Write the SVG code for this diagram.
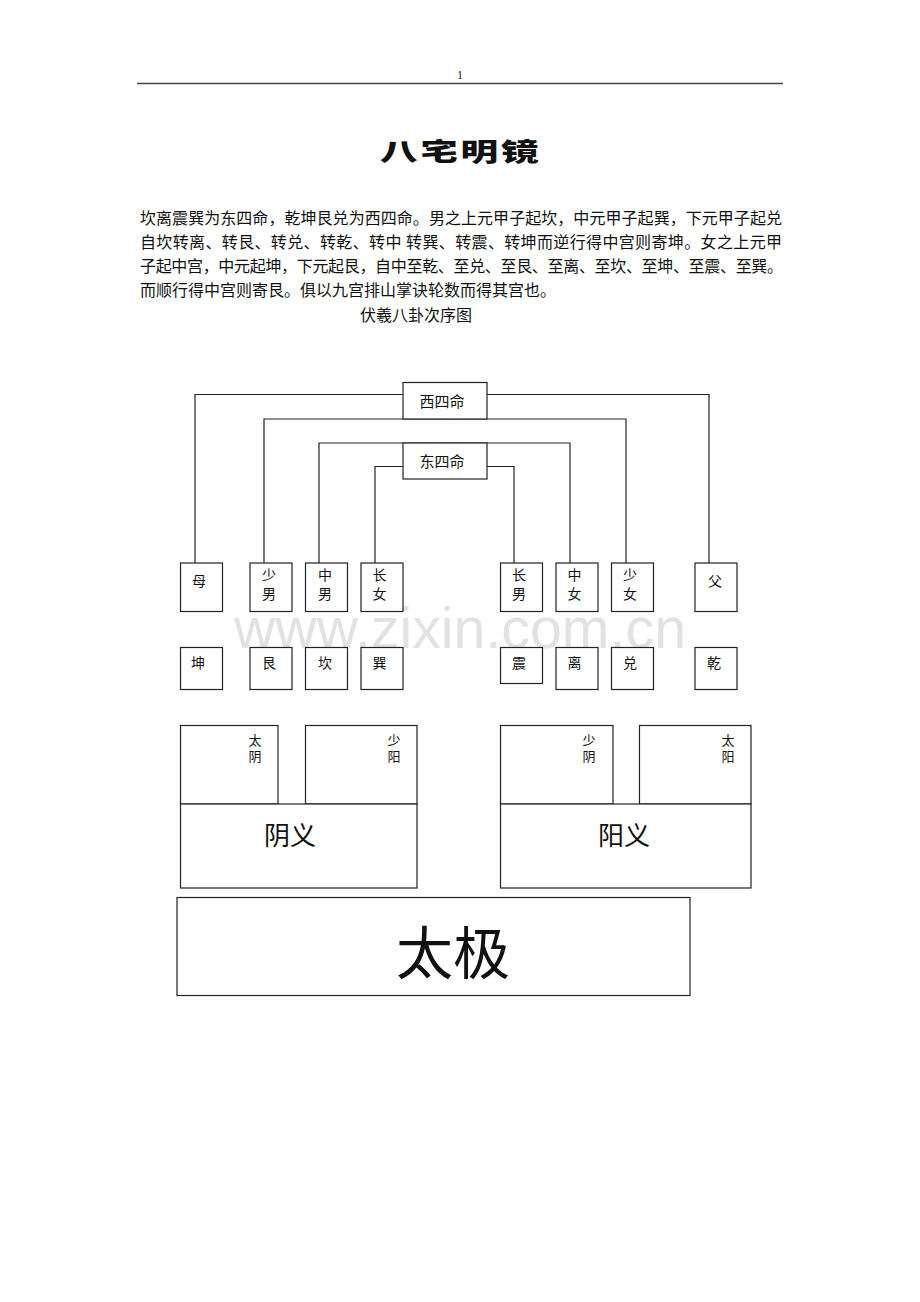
<svg xmlns="http://www.w3.org/2000/svg" width="920" height="1302" viewBox="0 0 920 1302">
<style>
.cn{font-family:"Liberation Serif","Noto Sans CJK SC",serif;fill:#111;}
.p{font-size:16px;}
.box{fill:#fff;stroke:#222;stroke-width:1.2;}
.conn{fill:none;stroke:#222;stroke-width:1.2;}
.n{font-size:14px;}
.t{font-size:14px;text-anchor:middle;}
.vs{font-size:13px;writing-mode:vertical-rl;letter-spacing:3px;}
</style>
<rect width="920" height="1302" fill="#fff"/>
<text x="460" y="79" font-family="Liberation Serif, serif" font-size="12" text-anchor="middle" fill="#222">1</text>
<line x1="137" y1="83.5" x2="783" y2="83.5" stroke="#444" stroke-width="1.6"/>
<g transform="translate(380,161) scale(1.3,0.85)">
<text x="0" y="0" font-family="Noto Sans CJK SC, sans-serif" font-weight="900" font-size="29" letter-spacing="2" fill="#111">八宅明镜</text>
</g>
<g class="cn p">
<text x="140" y="224" textLength="642" lengthAdjust="spacing">坎离震巽为东四命，乾坤艮兑为西四命。男之上元甲子起坎，中元甲子起巽，下元甲子起兑</text>
<text x="140" y="248" textLength="642" lengthAdjust="spacing">自坎转离、转艮、转兑、转乾、转中 转巽、转震、转坤而逆行得中宫则寄坤。女之上元甲</text>
<text x="140" y="272" textLength="643" lengthAdjust="spacing">子起中宫，中元起坤，下元起艮，自中至乾、至兑、至艮、至离、至坎、至坤、至震、至巽。</text>
<text x="140" y="296">而顺行得中宫则寄艮。俱以九宫排山掌诀轮数而得其宫也。</text>
<text x="360" y="321">伏羲八卦次序图</text>
</g>
<text x="234" y="648" font-family="Liberation Sans, sans-serif" font-size="57" fill="#e2e2e2" textLength="452" lengthAdjust="spacingAndGlyphs">www.zixin.com.cn</text>
<g id="connectors">
<polyline class="conn" points="195,563 195,394.5 403,394.5"/>
<polyline class="conn" points="487,394.5 709,394.5 709,563"/>
<polyline class="conn" points="264,563 264,419 626,419 626,563"/>
<polyline class="conn" points="319,563 319,443 570,443 570,563"/>
<polyline class="conn" points="375,563 375,466.5 403,466.5"/>
<polyline class="conn" points="487,466.5 514,466.5 514,563"/>
</g>
<g id="xi-si-ming"><rect class="box" x="403" y="382.5" width="84" height="36.5"/><text class="cn" font-size="15" x="442" y="407" text-anchor="middle">西四命</text></g>
<g id="dong-si-ming"><rect class="box" x="403" y="443" width="84" height="36"/><text class="cn" font-size="15" x="442" y="467" text-anchor="middle">东四命</text></g>
<g id="mu"><rect class="box" x="180.5" y="563" width="42" height="48.5"/><text class="cn n" x="192" y="586">母</text></g>
<g id="shao-nan"><rect class="box" x="250" y="563" width="42" height="48.5"/><text class="cn t" x="269" y="580">少</text><text class="cn t" x="269" y="599">男</text></g>
<g id="zhong-nan"><rect class="box" x="305.5" y="563" width="42" height="48.5"/><text class="cn t" x="325" y="580">中</text><text class="cn t" x="325" y="599">男</text></g>
<g id="zhang-nv"><rect class="box" x="361" y="563" width="42" height="48.5"/><text class="cn t" x="379.5" y="580">长</text><text class="cn t" x="379.5" y="599">女</text></g>
<g id="zhang-nan"><rect class="box" x="500.5" y="563" width="42" height="48.5"/><text class="cn t" x="519" y="580">长</text><text class="cn t" x="519" y="599">男</text></g>
<g id="zhong-nv"><rect class="box" x="556" y="563" width="42" height="48.5"/><text class="cn t" x="574.5" y="580">中</text><text class="cn t" x="574.5" y="599">女</text></g>
<g id="shao-nv"><rect class="box" x="611.5" y="563" width="42" height="48.5"/><text class="cn t" x="630" y="580">少</text><text class="cn t" x="630" y="599">女</text></g>
<g id="fu"><rect class="box" x="695" y="563" width="42" height="48.5"/><text class="cn n" x="708" y="586">父</text></g>
<g id="kun"><rect class="box" x="180.5" y="647.5" width="42" height="42"/><text class="cn n" x="191" y="668">坤</text></g>
<g id="gen"><rect class="box" x="250" y="647.5" width="42" height="42"/><text class="cn n" x="262" y="668">艮</text></g>
<g id="kan"><rect class="box" x="305.5" y="647.5" width="42" height="42"/><text class="cn n" x="318" y="668">坎</text></g>
<g id="xun"><rect class="box" x="361" y="647.5" width="42" height="42"/><text class="cn n" x="372.5" y="668">巽</text></g>
<g id="zhen"><rect class="box" x="500.5" y="647.5" width="42" height="36"/><text class="cn n" x="512" y="668">震</text></g>
<g id="li"><rect class="box" x="556" y="647.5" width="42" height="42"/><text class="cn n" x="567.5" y="668">离</text></g>
<g id="dui"><rect class="box" x="611.5" y="647.5" width="42" height="42"/><text class="cn n" x="623" y="668">兑</text></g>
<g id="qian"><rect class="box" x="695" y="647.5" width="42" height="42"/><text class="cn n" x="707" y="668">乾</text></g>
<g id="tai-yin"><rect class="box" x="180.5" y="725.5" width="97.5" height="78.5"/><text class="cn vs" x="254" y="734">太阴</text></g>
<g id="shao-yang"><rect class="box" x="305.5" y="725.5" width="111.5" height="78.5"/><text class="cn vs" x="393" y="734">少阳</text></g>
<g id="yin-yi"><rect class="box" x="180.5" y="804" width="236.5" height="84"/><text class="cn" font-size="26" x="290" y="845" text-anchor="middle">阴义</text></g>
<g id="shao-yin"><rect class="box" x="500.5" y="725.5" width="112.5" height="78.5"/><text class="cn vs" x="588" y="734">少阴</text></g>
<g id="tai-yang"><rect class="box" x="639.5" y="725.5" width="111.5" height="78.5"/><text class="cn vs" x="727" y="734">太阳</text></g>
<g id="yang-yi"><rect class="box" x="500.5" y="804" width="250.5" height="84"/><text class="cn" font-size="26" x="624" y="845" text-anchor="middle">阳义</text></g>
<g id="tai-ji"><rect class="box" x="177" y="897.5" width="513" height="98"/><text class="cn" font-size="57" x="453" y="974" text-anchor="middle">太极</text></g>
</svg>
